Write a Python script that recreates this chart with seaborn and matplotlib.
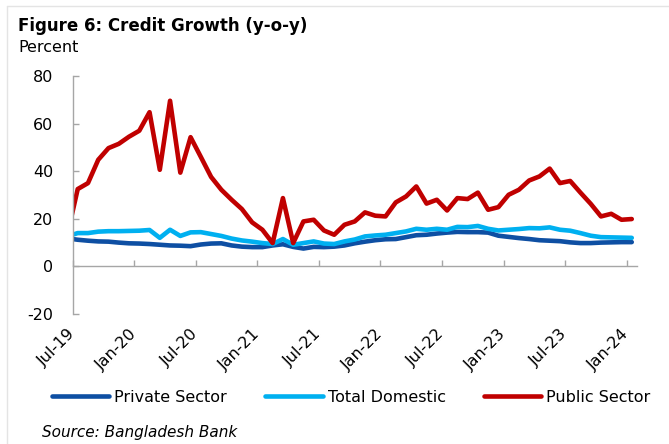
import matplotlib
matplotlib.use("Agg")
import matplotlib.pyplot as plt
from matplotlib.lines import Line2D
import numpy as np
import pandas as pd
import seaborn as sns

# Monthly credit growth, y-o-y (%), Jun-19 to Jan-24
months = list(pd.date_range("2019-06-01", "2024-01-01", freq="MS").strftime("%b-%y"))

private_sector = [11.8, 11.2, 10.8, 10.5, 10.4, 10.0, 9.7, 9.6, 9.4, 9.1, 8.8,
                  8.7, 8.5, 9.2, 9.6, 9.7, 8.8, 8.3, 8.1, 8.1, 8.8, 9.3,
                  8.2, 7.5, 8.2, 8.1, 8.3, 8.8, 9.7, 10.4, 11.0, 11.4, 11.5,
                  12.3, 13.1, 13.3, 13.8, 14.2, 14.5, 14.4, 14.4, 14.2, 12.9,
                  12.4, 11.9, 11.5, 11.0, 10.8, 10.6, 10.1, 9.8, 9.8, 10.0,
                  10.1, 10.2, 10.2]
total_domestic = [12.6, 14.0, 14.0, 14.6, 14.8, 14.8, 14.9, 15.0, 15.3, 12.0, 15.4,
                  12.8, 14.3, 14.4, 13.6, 12.8, 11.7, 10.9, 10.4, 9.8, 9.4,
                  11.5, 9.1, 9.8, 10.5, 9.6, 9.4, 10.5, 11.3, 12.6, 13.0,
                  13.3, 14.0, 14.7, 15.8, 15.4, 15.8, 15.4, 16.6, 16.5, 17.0,
                  15.8, 15.1, 15.4, 15.7, 16.1, 16.0, 16.4, 15.4, 15.0, 14.0,
                  12.9, 12.3, 12.2, 12.1, 12.0]
public_sector = [13.5, 32.5, 35.0, 44.8, 49.7, 51.5, 54.5, 57.0, 64.8, 40.6, 69.6,
                 39.4, 54.3, 46.0, 37.6, 32.2, 28.0, 24.1, 18.5, 15.4, 9.8,
                 28.7, 9.8, 18.9, 19.6, 15.1, 13.3, 17.5, 18.9, 22.7, 21.3,
                 21.0, 26.9, 29.4, 33.6, 26.4, 28.0, 23.5, 28.7, 28.3, 31.0,
                 23.8, 24.9, 30.1, 32.2, 36.1, 37.8, 41.1, 35.0, 35.9, 31.0,
                 26.3, 21.0, 22.1, 19.6, 19.9]

series_names = ["Private Sector", "Total Domestic", "Public Sector"]
series_colors = ["#0E4FA3", "#00B0F0", "#C00000"]
y_ticks = [-20, 0, 20, 40, 60, 80]

sns.set_style("white")
plt.rcParams["font.family"] = ["DejaVu Sans"]
plt.rcParams["text.color"] = "black"

# Category axis: each month sits in the middle of its slot; Jul-19 starts at 0
pos = np.arange(len(months)) - 0.5
frames = []
for name, vals in zip(series_names, [private_sector, total_domestic, public_sector]):
    frames.append(pd.DataFrame({"pos": pos, "value": vals, "series": name}))
df = pd.concat(frames, ignore_index=True)

fig = plt.figure(figsize=(6.69, 4.44), dpi=100)
ax = fig.add_axes([0.1085, 0.2928, 0.952 - 0.1085, 0.8288 - 0.2928])

sns.lineplot(data=df, x="pos", y="value", hue="series", hue_order=series_names,
             palette=series_colors, linewidth=3.3, sort=False, legend=False, ax=ax)
for ln in ax.get_lines():
    ln.set_solid_capstyle("round")
    ln.set_solid_joinstyle("round")

axis_grey = "#A6A6A6"
ax.set_xlim(0, len(months) - 1)
ax.set_ylim(-20, 80)
ax.set_yticks(y_ticks)
ax.set_yticklabels([str(t) for t in y_ticks])

tick_pos = np.arange(0, len(months) - 1, 6)
ax.set_xticks(tick_pos)
ax.set_xticklabels([months[int(p) + 1] for p in tick_pos])

for side in ["top", "right"]:
    ax.spines[side].set_visible(False)
ax.spines["left"].set_color(axis_grey)
ax.spines["bottom"].set_color(axis_grey)
ax.spines["bottom"].set_position(("data", 0))
ax.spines["left"].set_linewidth(1.0)
ax.spines["bottom"].set_linewidth(1.0)

ax.tick_params(axis="y", left=True, direction="in", length=4, width=1,
               color=axis_grey, labelsize=11.5, pad=14, labelcolor="black")
ax.tick_params(axis="x", bottom=True, direction="in", length=4, width=1,
               color=axis_grey, labelsize=11.5, pad=47, labelcolor="black",
               labelrotation=45)
for lab in ax.get_xticklabels():
    lab.set_horizontalalignment("right")
    lab.set_verticalalignment("center")
    lab.set_rotation_mode("anchor")
ax.set_xlabel("")
ax.set_ylabel("")

# Titles and source
fig.text(18 / 669, 1 - 26 / 444, "Figure 6: Credit Growth (y-o-y)",
         fontsize=12, fontweight="bold", va="center", ha="left", color="black")
fig.text(18 / 669, 1 - 47 / 444, "Percent", fontsize=11.5, va="center",
         ha="left", color="black")
fig.text(42 / 669, 1 - 432 / 444, "Source: Bangladesh Bank", fontsize=11,
         style="italic", va="center", ha="left", color="black")

# Legend
handles = [Line2D([0], [0], color=c, lw=3.3, solid_capstyle="round")
           for c in series_colors]
leg = fig.legend(handles, series_names, loc="center",
                 bbox_to_anchor=(0.525, 1 - 397 / 444), ncol=3, frameon=False,
                 fontsize=11.5, handlelength=3.6, handletextpad=0.3,
                 columnspacing=2.4)
for t in leg.get_texts():
    t.set_color("black")

# Light panel frame
fig.add_artist(Line2D([7 / 669, 1.0], [1 - 6 / 444, 1 - 6 / 444],
                      transform=fig.transFigure, color="#E4E4E4", lw=1))
fig.add_artist(Line2D([7 / 669, 7 / 669], [0.0, 1 - 6 / 444],
                      transform=fig.transFigure, color="#E4E4E4", lw=1))

fig.savefig("out.png", dpi=100)
